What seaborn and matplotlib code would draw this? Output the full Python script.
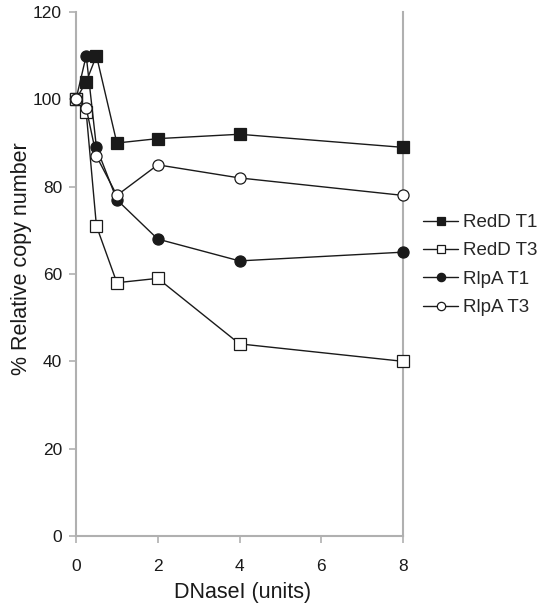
import matplotlib
matplotlib.use("Agg")
import matplotlib.pyplot as plt
import seaborn as sns
import pandas as pd

dose = [0, 0.25, 0.5, 1, 2, 4, 8]
redd_t1 = [100, 104, 110, 90, 91, 92, 89]
redd_t3 = [100, 97, 71, 58, 59, 44, 40]
rlpa_t1 = [100, 110, 89, 77, 68, 63, 65]
rlpa_t3 = [100, 98, 87, 78, 85, 82, 78]
series_names = ["RedD T1", "RedD T3", "RlpA T1", "RlpA T3"]
x_ticks = [0, 2, 4, 6, 8]
y_ticks = [0, 20, 40, 60, 80, 100, 120]

sns.set_style("white")
plt.rcParams["font.family"] = ["Liberation Sans", "DejaVu Sans"]

rows = []
for name, vals in zip(series_names, [redd_t1, redd_t3, rlpa_t1, rlpa_t3]):
    for d, v in zip(dose, vals):
        rows.append({"dose": d, "value": v, "series": name})
df = pd.DataFrame(rows)

fig = plt.figure(figsize=(5.47, 6.06), dpi=100)
ax = fig.add_axes([76 / 547, 70 / 606, 327 / 547, 524 / 606])

styles = {
    "RedD T1": dict(marker="s", mfc="#1a1a1a"),
    "RedD T3": dict(marker="s", mfc="white"),
    "RlpA T1": dict(marker="o", mfc="#1a1a1a"),
    "RlpA T3": dict(marker="o", mfc="white"),
}
for name in series_names:
    sub = df[df["series"] == name]
    st = styles[name]
    sns.lineplot(data=sub, x="dose", y="value", ax=ax, color="#1a1a1a",
                 linewidth=1.0, marker=st["marker"], markersize=8,
                 markerfacecolor=st["mfc"], markeredgecolor="#1a1a1a",
                 markeredgewidth=0.9, label=name, zorder=3)

ax.set_xlim(0, 8)
ax.set_ylim(0, 120)
ax.set_xticks(x_ticks)
ax.set_yticks(y_ticks)
ax.tick_params(axis="both", direction="out", length=5, width=1.2, color="#b0b0b0",
               labelsize=12.5, labelcolor="#1a1a1a", bottom=True, left=True)
ax.tick_params(axis="x", pad=11.5)
ax.tick_params(axis="y", pad=5)
for side in ["left", "right", "bottom"]:
    ax.spines[side].set_visible(True)
    ax.spines[side].set_color("#b0b0b0")
    ax.spines[side].set_linewidth(1.5)
ax.spines["top"].set_visible(False)
for s in ax.lines:
    s.set_clip_on(False)

ax.set_xlabel("DNaseI (units)", fontsize=15.5, color="#1a1a1a")
ax.set_ylabel("% Relative copy number", fontsize=15.5, color="#1a1a1a")
ax.xaxis.set_label_coords(0.51, -0.0878)
ax.yaxis.set_label_coords(-0.1346, 0.529)

ax.legend(loc="upper left", bbox_to_anchor=(423 / 547, 1 - 214 / 606),
          bbox_transform=fig.transFigure, frameon=False, fontsize=13.5,
          handlelength=1.87, handletextpad=0.27, labelspacing=0.6,
          borderaxespad=0, borderpad=0, markerscale=0.75)

fig.savefig("out.png", dpi=100)
